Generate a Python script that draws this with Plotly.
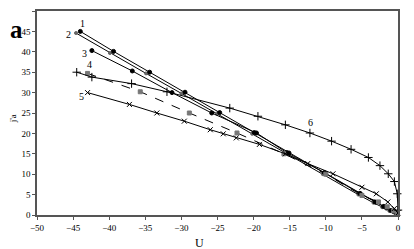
import plotly.graph_objects as go

# Series data (U, j'a)
s1_u = [-44.0, -39.4, -34.4, -29.5, -24.7, -19.9, -15.1, -10.1, -5.2, -3.2, -2.0, -1.0, -0.2]
s1_v = [45.0, 40.1, 35.0, 30.1, 25.1, 20.2, 15.2, 10.2, 5.2, 3.2, 2.1, 1.1, 0.4]

s2_u = [-44.6, -39.9, -34.9, -30.0, -25.1, -20.2, -15.4, -10.4, -5.5, -3.4, -2.2, -1.2, -0.3]
s2_v = [44.6, 39.7, 34.7, 29.8, 24.8, 19.9, 15.0, 10.0, 5.0, 3.0, 1.9, 1.0, 0.3]

s3_u = [-42.4, -36.8, -31.3, -25.8, -19.6, -15.4, -10.2, -5.3, -3.0, -1.6, -0.6, -0.1]
s3_v = [40.3, 35.3, 30.0, 25.0, 20.1, 15.3, 10.4, 5.3, 3.1, 1.7, 0.8, 0.3]

s4_u = [-43.0, -35.7, -28.9, -22.3, -15.8, -10.0, -5.0, -2.7, -1.5, -0.6, -0.1]
s4_v = [34.7, 30.2, 25.0, 20.1, 15.0, 10.0, 4.8, 3.2, 2.0, 1.0, 0.4]

s5_u = [-43.0, -37.2, -33.4, -29.6, -26.0, -24.2, -22.4, -19.2, -15.6, -12.5, -9.0, -5.0, -3.0, -1.4, -0.5, 0.0]
s5_v = [30.0, 27.1, 25.0, 23.0, 20.9, 19.9, 18.9, 17.3, 15.0, 12.6, 10.1, 6.8, 5.2, 3.2, 1.6, 0.5]

s6_u = [-44.5, -42.4, -36.9, -32.0, -23.3, -19.4, -15.6, -12.2, -9.2, -6.5, -4.1, -2.5, -1.35, -0.5, -0.1, 0.0]
s6_v = [35.0, 33.8, 32.2, 30.2, 26.2, 24.2, 22.1, 20.1, 18.1, 16.1, 14.1, 12.1, 10.1, 8.2, 5.2, 1.2]

x_ticks = list(range(-50, 1, 5))
y_ticks = list(range(0, 51, 5))

fig = go.Figure()

def add(u, v, symbol, color, dash="solid", size=4):
    fig.add_trace(go.Scatter(x=u, y=v, mode="lines+markers",
                             line=dict(color="black", width=1, dash=dash),
                             marker=dict(symbol=symbol, size=size, color=color,
                                         line=dict(color=color, width=1)),
                             showlegend=False, cliponaxis=False))

add(s2_u, s2_v, "circle", "#666666", size=3)
add(s1_u, s1_v, "circle", "black", size=4)
add(s3_u, s3_v, "circle", "black", size=4)
add(s4_u, s4_v, "square", "#777777", dash="dash", size=4)
add(s5_u, s5_v, "x-thin", "black", size=5)
add(s6_u, s6_v, "cross-thin", "black", size=6)

labels = [("1", s1_u[0], s1_v[0], 2, 8), ("2", s2_u[0], s2_v[0], -7, -1),
          ("3", s3_u[0], s3_v[0], -7, -3), ("4", s4_u[0], s4_v[0], 2, 9),
          ("5", s5_u[0], s5_v[0], -6, -4), ("6", s6_u[7], s6_v[7], 1, 10)]
for t, x, y, dx, dy in labels:
    fig.add_annotation(x=x, y=y, text=t, showarrow=False, xshift=dx, yshift=dy,
                       font=dict(family="Liberation Serif", size=10, color="black"))

fig.add_annotation(x=-0.080, y=0.985, xref="paper", yref="paper", text="<b>a</b>",
                   xanchor="left", yanchor="top",
                   showarrow=False, font=dict(family="Liberation Serif", size=25, color="black"))
fig.add_annotation(x=0.45, y=-0.095, xref="paper", yref="paper", text="U",
                   xanchor="center", yanchor="top",
                   showarrow=False, font=dict(family="Liberation Serif", size=12, color="black"))
fig.add_annotation(x=-0.066, y=0.47, xref="paper", yref="paper", text="j'a", textangle=-90,
                   xanchor="center", yanchor="middle",
                   showarrow=False, font=dict(family="Liberation Serif", size=9, color="black"))

axis_common = dict(showgrid=False, zeroline=False, showline=True, linecolor="#555555",
                   linewidth=1.5, mirror=True, ticks="outside", ticklen=3, tickcolor="#555555",
                   tickfont=dict(family="Liberation Serif", size=9, color="black"))

fig.update_xaxes(range=[-50, 0], tickvals=x_ticks, **axis_common)
fig.update_yaxes(range=[0, 50], tickvals=y_ticks, **axis_common)

# page body adds an 8px offset, so the figure is sized to fit the 414x249 window
fig.update_layout(width=406, height=241, margin=dict(l=29, r=16, t=1, b=34),
                  plot_bgcolor="white", paper_bgcolor="white")

fig.write_html("out.html")
